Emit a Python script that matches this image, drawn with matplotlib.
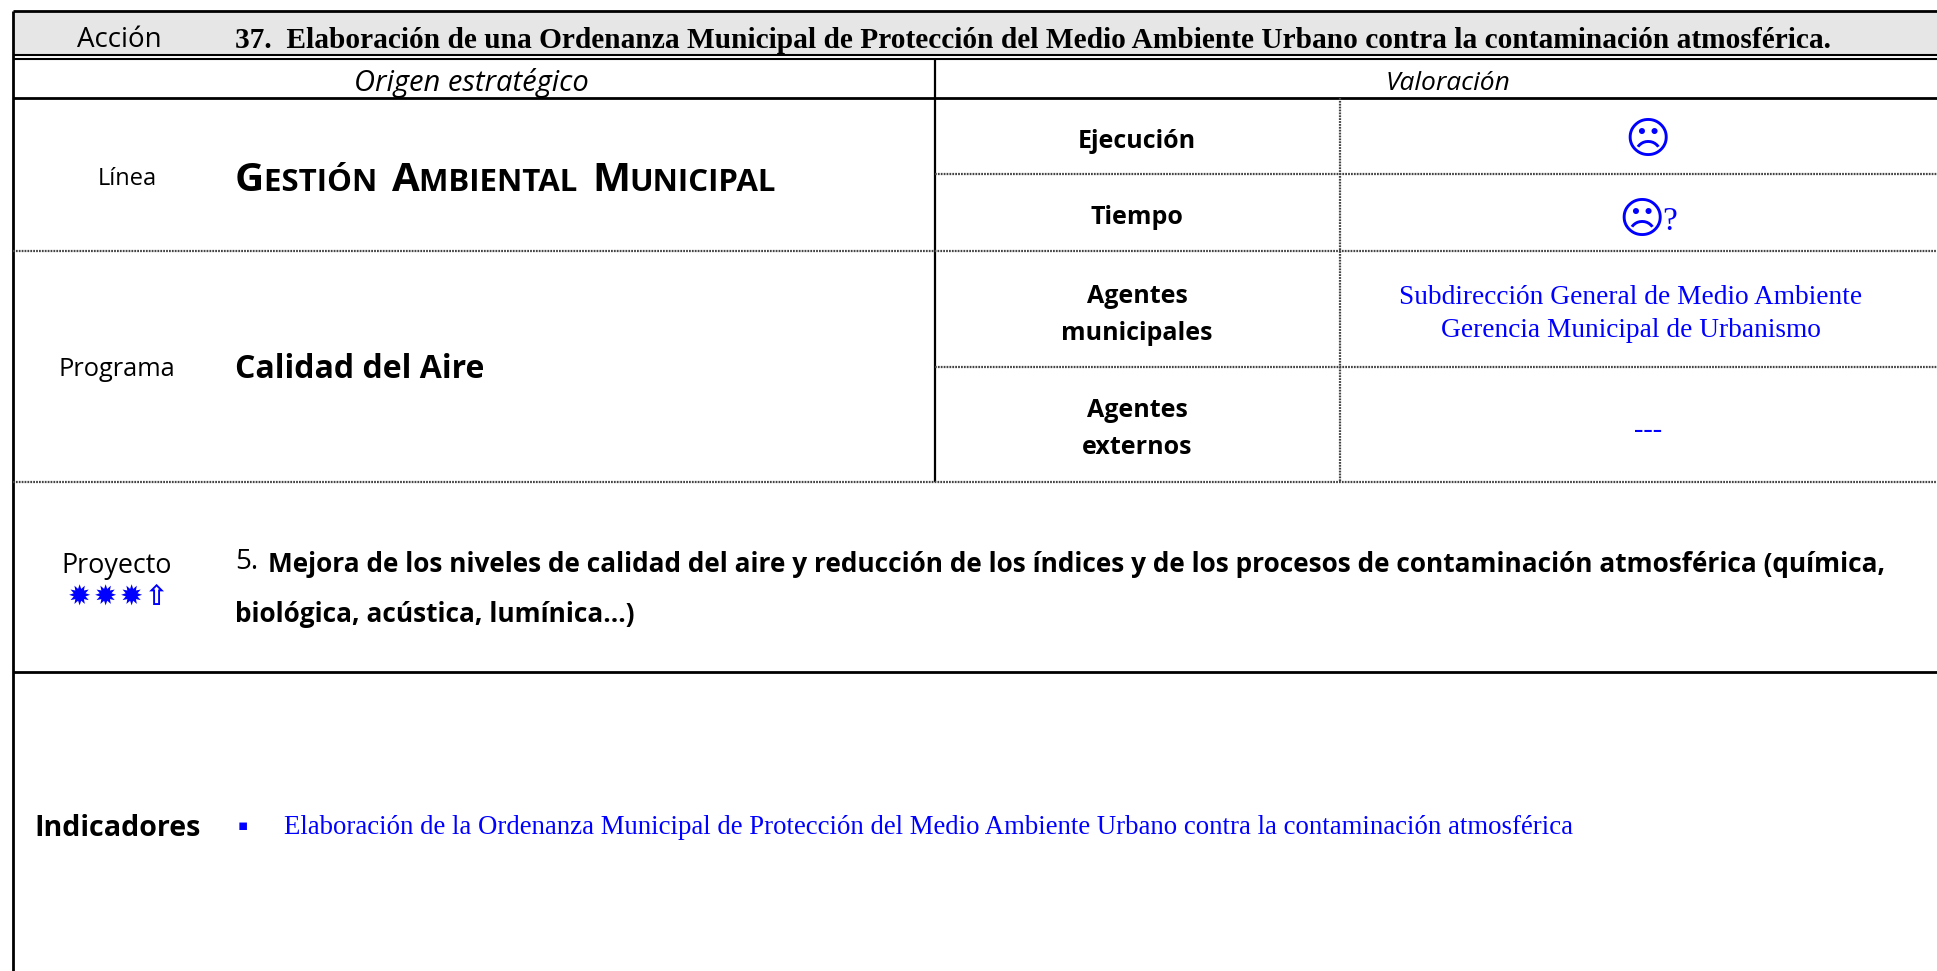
import matplotlib
matplotlib.use("Agg")
import matplotlib.pyplot as plt

W, H = 1937, 971
SANS = "Open Sans"
SERIF = "Liberation Serif"
BLUE = "#0000ff"

accion_label = "Acción"
accion_title = "37.  Elaboración de una Ordenanza Municipal de Protección del Medio Ambiente Urbano contra la contaminación atmosférica."
col_titles = ["Origen estratégico", "Valoración"]
left_labels = ["Línea", "Programa", "Proyecto"]
linea_parts = ["G", "ESTIÓN ", "A", "MBIENTAL ", "M", "UNICIPAL"]
programa = "Calidad del Aire"
val_labels = ["Ejecución", "Tiempo", "Agentes\nmunicipales", "Agentes\nexternos"]
agentes_mun = "Subdirección General de Medio Ambiente\nGerencia Municipal de Urbanismo"
agentes_ext = "---"
proyecto_1 = "Mejora de los niveles de calidad del aire y reducción de los índices y de los procesos de contaminación atmosférica (química,"
proyecto_2 = "biológica, acústica, lumínica…)"
indicador = "Elaboración de la Ordenanza Municipal de Protección del Medio Ambiente Urbano contra la contaminación atmosférica"

fig = plt.figure(figsize=(W / 100, H / 100), dpi=100)
ax = fig.add_axes([0, 0, 1, 1])
ax.set_xlim(0, W)
ax.set_ylim(H, 0)
ax.axis("off")

# header band
ax.fill_between([13, W], 12, 55, color="#e6e6e6", lw=0)

def solid(x0, y0, x1, y1, lw=2.0):
    ax.plot([x0, x1], [y0, y1], color="black", lw=lw, solid_capstyle="butt")

def dotted(x0, y0, x1, y1):
    ax.plot([x0, x1], [y0, y1], color="#444444", lw=1.6, ls=(0, (0.8, 0.5)))

solid(13, 11, W, 11)
solid(13, 11, 13, H)
solid(13, 55.5, W, 55.5, lw=1.5)
solid(13, 59.5, W, 59.5, lw=1.5)
solid(13, 98, W, 98)
solid(935, 60, 935, 482, lw=1.6)
solid(13, 672, W, 672)
for y in [251, 482]:
    dotted(13, y, W, y)
for y in [174, 367]:
    dotted(935, y, W, y)
dotted(1340, 98, 1340, 482)

def txt(x, y, s, size, family=SANS, **kw):
    kw.setdefault("va", "center")
    kw.setdefault("ha", "center")
    return ax.text(x, y, s, fontsize=size, family=family, **kw)

txt(119, 40, accion_label, 20)
txt(235, 40, accion_title, 21.16, family=SERIF, weight="bold", ha="left")
txt(471, 83, col_titles[0], 21, style="italic")
txt(1448, 83, col_titles[1], 19, style="italic")

txt(127, 179, left_labels[0], 17)
txt(117, 370, left_labels[1], 18.3)
txt(117, 566, left_labels[2], 19.4)

# small caps title, pieces set one after another
x = 235
fig.canvas.draw()
for i, part in enumerate(linea_parts):
    t = txt(x, 191, part, 29 if i % 2 == 0 else 22.5, weight="bold", ha="left", va="baseline")
    x = t.get_window_extent().x1 + (6 if part.endswith(" ") else 0)

txt(235, 370, programa, 23, weight="bold", ha="left")

for y, s in zip([141, 218, 315, 429], val_labels):
    txt(1137, y, s, 18, weight="bold", linespacing=1.6)

txt(1647, 141, "☹", 32, family="DejaVu Sans", color=BLUE)
txt(1641, 220, "☹", 32, family="DejaVu Sans", color=BLUE)
txt(1670, 222, "?", 24, family=SERIF, color=BLUE)
txt(1631, 314, agentes_mun, 19.7, family=SERIF, color=BLUE, linespacing=1.4)
txt(1648, 430, agentes_ext, 20.5, family=SERIF, color=BLUE)

# project stars and arrow
for sx in [79, 105, 131]:
    txt(sx, 598, "✹", 20, family="DejaVu Sans", color=BLUE)
txt(156, 597, "⇧", 20, family="DejaVu Sans", color=BLUE, weight="bold")

txt(235, 562, "5.", 20, ha="left")
txt(268, 564, proyecto_1, 18.9, weight="bold", ha="left")
txt(235, 615, proyecto_2, 18.9, weight="bold", ha="left")

txt(118, 829, "Indicadores", 20.6, weight="bold")
txt(243, 825, "▪", 11, family="DejaVu Sans", color=BLUE)
txt(284, 828, indicador, 19.3, family=SERIF, color=BLUE, ha="left")

fig.savefig("out.png", dpi=100)
